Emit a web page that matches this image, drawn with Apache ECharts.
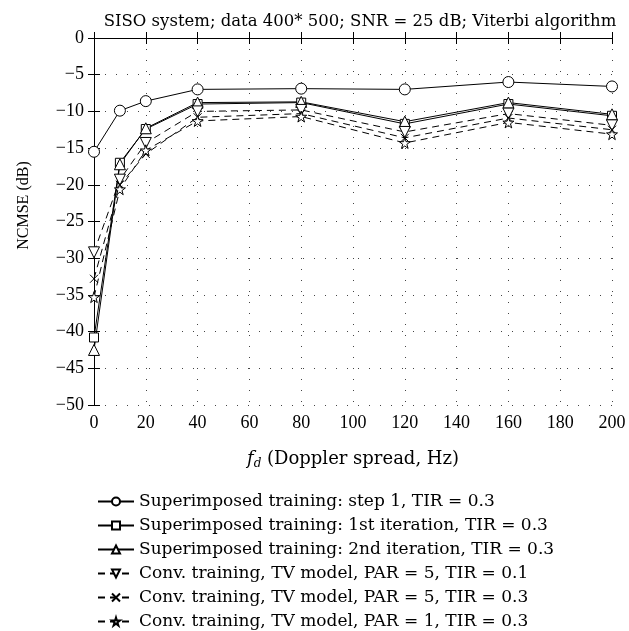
<!DOCTYPE html>
<html>
<head>
<meta charset="utf-8">
<script src="https://cdn.jsdelivr.net/npm/echarts@6/dist/echarts.min.js"></script>
<style>
  html, body { margin: 0; padding: 0; background: #fff; }
  #chart { width: 629px; height: 631px; }
</style>
</head>
<body>
<div id="chart"></div>
<script>
/* ── data ── */
var fd = [0, 10, 20, 40, 80, 120, 160, 200];
var supStep1 = [-15.5, -9.9, -8.6, -7.0, -6.9, -7.0, -6.0, -6.6];
var sup1stIter = [-40.8, -17.0, -12.4, -9.0, -8.8, -11.7, -9.0, -10.6];
var sup2ndIter = [-42.5, -17.2, -12.3, -8.8, -8.7, -11.4, -8.8, -10.4];
var convPar5Tir01 = [-29.2, -19.3, -14.3, -10.0, -9.8, -12.8, -10.3, -11.9];
var convPar5Tir03 = [-32.8, -20.0, -15.8, -10.8, -10.3, -13.6, -10.9, -12.5];
var convPar1Tir03 = [-35.3, -20.6, -15.3, -11.3, -10.7, -14.3, -11.5, -13.1];

var names = [
  'Superimposed training: step 1, TIR = 0.3',
  'Superimposed training: 1st iteration, TIR = 0.3',
  'Superimposed training: 2nd iteration, TIR = 0.3',
  'Conv. training, TV model, PAR = 5, TIR = 0.1',
  'Conv. training, TV model, PAR = 5, TIR = 0.3',
  'Conv. training, TV model, PAR = 1, TIR = 0.3'
];

var NUM = '"Liberation Serif", "DejaVu Serif", serif';
var TXT = '"DejaVu Serif", "Liberation Serif", serif';
var downTri = 'path://M0,0 L10,0 L5,9 Z';
var xMark = 'path://M0,0 L10,10 M10,0 L0,10';
var star = 'path://M50,0 L61,35 L98,35 L68,57 L79,91 L50,70 L21,91 L32,57 L2,35 L39,35 Z';

function pairs(ys) {
  return fd.map(function(x, i) { return [x, ys[i]]; });
}

function mkSeries(name, ys, symbol, size, dashed, fill) {
  return {
    name: name, type: 'line', data: pairs(ys),
    symbol: symbol, symbolSize: size,
    lineStyle: { color: '#000', width: 1, type: dashed ? [7, 5] : 'solid' },
    itemStyle: { color: fill || '#fff', borderColor: '#000', borderWidth: 1 },
    emphasis: { disabled: true },
    animation: false
  };
}

var minus = function(v) { return String(v).replace('-', '\u2212'); };

var ch = echarts.init(document.getElementById('chart'));
ch.setOption({
  backgroundColor: '#fff',
  animation: false,
  title: {
    text: 'SISO system; data 400* 500; SNR = 25 dB; Viterbi algorithm',
    left: 355, top: 8, textAlign: 'center',
    textStyle: { fontFamily: TXT, fontSize: 16.5, fontWeight: 'normal', color: '#000' }
  },
  grid: { left: 94, right: 17, top: 38, bottom: 226 },
  xAxis: [
    { type: 'value', min: 0, max: 200, interval: 20, position: 'bottom',
      name: '{i|f}{s|d} (Doppler spread, Hz)', nameLocation: 'middle', nameGap: 44,
      nameTextStyle: { fontFamily: TXT, fontSize: 18, color: '#000',
        rich: { i: { fontFamily: TXT, fontSize: 18, fontStyle: 'italic' },
                s: { fontFamily: TXT, fontSize: 12, fontStyle: 'italic', verticalAlign: 'bottom', padding: [9, 0, 0, 0] } } },
      axisLine: { lineStyle: { color: '#000', width: 1 } },
      axisTick: { inside: true, length: 6, lineStyle: { color: '#000' } },
      axisLabel: { fontFamily: NUM, fontSize: 18, color: '#000', margin: 9 },
      splitLine: { show: true, lineStyle: { color: '#444', type: [1, 10], width: 1 } } },
    { type: 'value', min: 0, max: 200, interval: 20, position: 'top',
      axisLine: { lineStyle: { color: '#000', width: 1 } },
      axisTick: { inside: true, length: 6, lineStyle: { color: '#000' } },
      axisLabel: { show: false }, splitLine: { show: false } }
  ],
  yAxis: [
    { type: 'value', min: -50, max: 0, interval: 5, position: 'left',
      name: 'NCMSE (dB)', nameLocation: 'middle', nameGap: 62, nameRotate: 90,
      nameTextStyle: { fontFamily: NUM, fontSize: 16, color: '#000', padding: [0, 0, 0, 32] },
      axisLine: { lineStyle: { color: '#000', width: 1 } },
      axisTick: { inside: true, length: 6, lineStyle: { color: '#000' } },
      axisLabel: { fontFamily: NUM, fontSize: 18, color: '#000', margin: 10, formatter: minus },
      splitLine: { show: true, lineStyle: { color: '#444', type: [1, 10], width: 1 } } },
    { type: 'value', min: -50, max: 0, interval: 5, position: 'right',
      axisLine: { lineStyle: { color: '#000', width: 1 } },
      axisTick: { inside: true, length: 6, lineStyle: { color: '#000' } },
      axisLabel: { show: false }, splitLine: { show: false } }
  ],
  legend: {
    orient: 'vertical', left: 92, top: 488, height: 150,
    itemWidth: 36, itemHeight: 10, itemGap: 7,
    textStyle: { fontFamily: TXT, fontSize: 17, color: '#000', lineHeight: 17 },
    data: names
  },
  series: [
    mkSeries(names[0], supStep1, 'circle', 11, false),
    mkSeries(names[1], sup1stIter, 'rect', 9, false),
    mkSeries(names[2], sup2ndIter, 'triangle', 11, false),
    mkSeries(names[3], convPar5Tir01, downTri, 11, true),
    mkSeries(names[4], convPar5Tir03, xMark, 8, true, 'transparent'),
    mkSeries(names[5], convPar1Tir03, star, 11, true)
  ]
});
</script>
</body>
</html>
